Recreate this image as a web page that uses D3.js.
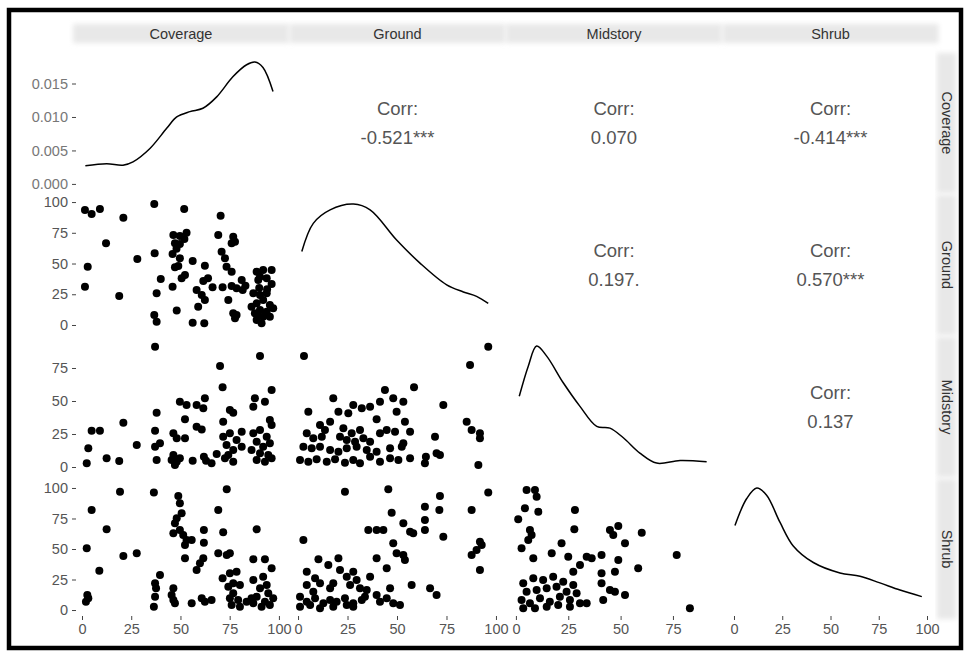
<!DOCTYPE html>
<html>
<head>
<meta charset="utf-8">
<script src="https://cdn.jsdelivr.net/npm/d3@7"></script>
<style>
  body { margin: 0; background: #fff; }
  text { font-family: "Liberation Sans", Arial, sans-serif; }
</style>
</head>
<body>
<svg width="967" height="655"></svg>
<script>
// **** Data ****

var variables = ['Coverage', 'Ground', 'Midstory', 'Shrub'];

// axis limits of every variable (already padded like ggplot does)
var xLimits = [[-3.05, 103.6], [-2.8, 103.3], [-3.3, 97.0], [-4.4, 104.4]];
var yLimits = [null, [-5.7, 103.3], [-5.3, 96.2], [-4.9, 104.9]];

var xTicks = [[0, 25, 50, 75, 100], [0, 25, 50, 75, 100], [0, 25, 50, 75], [0, 25, 50, 75, 100]];
var yTicks = [[0, 0.005, 0.010, 0.015], [0, 25, 50, 75, 100], [0, 25, 50, 75], [0, 25, 50, 75, 100]];

// diagonal densities: [value, density]
var coverageDensity = [[1.7,0.0027],[12.5,0.0030],[20.8,0.0028],[25.9,0.0033],[34.5,0.0053],[43.0,0.0083],
  [48.1,0.0100],[54.8,0.0108],[61.4,0.0113],[68.4,0.0130],[76.6,0.0160],[83.6,0.0178],[87.8,0.0182],
  [91.9,0.0174],[97.0,0.0138]];
var groundDensity = [[1.9,0.0116],[7.7,0.0160],[16.2,0.0181],[28.0,0.0190],[36.4,0.0181],[49.8,0.0134],
  [61.6,0.0098],[75.1,0.0064],[83.5,0.0053],[90.2,0.0046],[96.1,0.0035]];
var midstoryDensity = [[1.6,0.0164],[5.9,0.0233],[9.9,0.0279],[14.7,0.0256],[22.6,0.0195],[30.6,0.0141],
  [38.6,0.0095],[44.9,0.0091],[51.3,0.0069],[59.2,0.0034],[67.2,0.0011],[78.4,0.0017],[91.1,0.0014]];
var shrubDensity = [[0.5,0.0178],[6.6,0.0235],[11.8,0.0257],[16.9,0.0242],[23.8,0.0185],[30.7,0.0135],
  [41.1,0.0100],[54.9,0.0078],[65.3,0.0071],[75.6,0.0057],[86.0,0.0042],[97.3,0.0028]];

// lower panels: [x, y]
var coverageGround = [[1.5,93.5],[4.9,90.2],[9.1,94.3],[21,87.2],[36.7,98.4],[51.9,94.3],[70.4,88.9],[12.2,66.4],
  [2.9,47.4],[1.5,31.1],[18.9,23.6],[28.1,53.7],[36.9,58.3],[40,37.4],[37.9,25.8],[36.7,8.1],[37.9,2.7],
  [46.4,73.2],[49.7,72.4],[53.1,75],[47.2,66.4],[49.7,65.9],[46,57.7],[49.7,54.2],[47.2,46.9],[48.9,48],
  [56.2,52],[62.4,48.2],[52.3,40.7],[50.6,38],[46,31.1],[48.1,11.7],[56.2,1.9],[62.1,1.4],[61.6,35.8],
  [58.2,28.5],[60.8,24.4],[62.4,20.3],[59,14.9],[66.3,30.6],[69.2,73.2],[76.8,71.8],[77.7,67.7],[76,66.4],
  [70.9,59.6],[72.6,54.2],[73.4,47.4],[76,43.3],[71.4,30.6],[76,31.7],[78.5,29.8],[81.1,36.6],[81.6,28.5],
  [74.3,20.3],[76.8,9.5],[77.7,5.4],[78.5,8.1],[88.7,43.3],[92,44.7],[96.3,44.7],[90.4,39.3],[93.8,38],
  [89.5,36.6],[96.3,33.3],[87,25.8],[90.4,24.4],[93.8,25.8],[92,20.3],[88.7,17.6],[86.1,14.9],[95.4,16.3],
  [90.4,12.2],[93.8,10.8],[92,6.8],[88.7,4.1],[95.4,6.8],[91.2,1.4],[87.8,9.5],[97.1,13.6],[52,70],[48,62],
  [64,38],[83,32],[90,30],[94,29],[89,8]];
var coverageMidstory = [[37.1,91.1],[90.4,84.1],[70.1,76.5],[71.4,60.4],[96.3,58.3],[49.7,49.5],[53.1,47],
  [58.2,47],[62.4,52],[61.6,44.5],[37.9,41.1],[87.8,52],[92.9,49.5],[87,45.7],[75.1,43.2],[76.8,41.1],
  [52.3,36.1],[71.7,34.3],[95.4,35.6],[96.3,31.8],[21,33.6],[58.2,30.5],[60.8,28.5],[4.9,27.5],[9.1,27.5],
  [37.1,27.5],[46.4,25.5],[48.1,21.7],[52.3,21.7],[71.7,23],[75.1,25.5],[81.1,26.7],[78.5,20.5],[73.4,16.7],
  [76.8,12.9],[81.1,15.4],[87,25.5],[90.4,28],[93.8,23],[88.7,19.2],[92,15.4],[95.4,18],[86.1,12.9],
  [90.4,10.4],[94.6,9.1],[88.7,5.3],[92.9,4],[96.3,6.6],[27.8,16.7],[37.1,15.4],[39.6,18],[3.2,14.2],
  [2.4,2.8],[12.5,6.6],[18.9,4.5],[37.9,5.3],[46.4,9.1],[48.1,4],[47.2,1.5],[49.7,6.6],[45.5,5.3],[56.2,4.8],
  [61.9,7.8],[63,4.8],[65.8,2.8],[68.4,9.8],[72.6,6.6],[74.3,9.1],[76.8,4]];
var coverageShrub = [[19.3,97],[36.5,96.2],[48.9,93.4],[73.5,98.9],[4.9,82],[12.5,66.1],[2.4,50.6],[21,44.3],
  [27.8,46.5],[8.8,32.2],[3.2,9.6],[2.7,12.3],[2,6.8],[49.7,87.5],[50.6,79.3],[48.1,75.2],[47.2,71.1],
  [49.7,65.6],[46.4,62.9],[51.4,61.5],[53.1,57.4],[55.7,57.4],[52.3,53.3],[69.2,82],[61.9,65.6],[71.7,63.7],
  [61.9,55.2],[52.3,42.4],[61.6,42.4],[59.9,38.3],[58.2,32.8],[69.2,46.5],[73.5,45.1],[75.1,46.5],[88.7,66.1],
  [87,41.6],[92.9,41.6],[96.3,34.2],[71.4,26],[39.6,28.7],[37.1,21.9],[37.6,17.8],[37.1,10.9],[36.5,2.7],
  [46.4,17.8],[45.5,12.3],[46.4,8.2],[47.2,5.5],[55.7,5.5],[60.8,9.6],[62.4,6.8],[65.8,8.2],[75.1,30.1],
  [78.5,31.4],[76.8,21.9],[74.3,19.1],[80.2,20.5],[76.8,13.7],[75.1,9.6],[79.3,8.2],[76,4.1],[80.2,2.7],
  [83.6,6.8],[86.1,9.6],[87,24.6],[92,27.3],[93.8,20.5],[90.4,17.8],[94.6,13.7],[88.7,10.9],[92.9,6.8],
  [87,5.5],[91.2,2.7],[95.4,4.1],[97.1,9.6]];
var groundMidstory = [[3,84.1],[96.1,91.1],[86.9,77.3],[73.4,47],[58.6,60.4],[43.9,58.3],[48.1,52],[53.2,49.5],
  [17.8,52],[27.9,47],[32.2,44.5],[36.4,45.7],[41.4,49.5],[49.8,41.9],[5.2,41.9],[20.4,41.9],[25.4,40.7],
  [39.7,36.1],[54,34.3],[11.1,31.8],[16.2,34.3],[13.6,28],[22.9,29.3],[27.1,25.5],[31.3,28],[41.4,25.5],
  [44.8,28],[49,26.7],[56.6,26.7],[4.4,25.5],[7.7,21.7],[12,23],[21.2,23],[24.6,20.5],[28.8,19.2],[33,21.7],
  [36.4,19.2],[2.7,15.4],[6.9,14.2],[11.1,15.4],[16.2,12.9],[20.4,11.6],[24.6,14.2],[29.6,15.4],[34.7,12.9],
  [39.7,11.6],[46.5,14.2],[52.4,15.4],[1,5.3],[5.2,4],[9.4,5.8],[14.5,4],[18.7,5.8],[23.7,3.3],[27.9,5.3],
  [31.3,2.8],[36.4,7.8],[41.4,4],[46.5,6.6],[50.7,5.3],[56.6,6.6],[53.2,18],[64.1,2.8],[64.6,7.8],[70,10.4],
  [71.7,9.1],[69.2,23],[85.2,34.3],[87.7,28],[91.9,25.5],[91.9,21.7],[91.1,1.5]];
var groundShrub = [[2.7,57.4],[23.7,97],[45.6,98.9],[10.3,41.6],[15.3,36.9],[20.4,42.4],[4.4,31.4],[8.6,26],
  [35.5,65.6],[39.7,65.6],[43.1,65.6],[47.3,79.8],[48.1,54.7],[49.8,46.5],[53.2,45.1],[54,41],[39.7,42.4],
  [44.8,34.2],[53.2,71.1],[58.2,62.9],[56.6,64.2],[64.1,84.7],[64.1,73.8],[64.1,65.6],[71.7,93.4],[71.4,82],
  [73.4,60.1],[57.4,20.5],[66.7,17.8],[70,12.3],[36.4,27.3],[21.2,32.8],[24.6,27.3],[27.9,31.4],[29.6,24.6],
  [26.3,20.5],[31.3,17.8],[34.7,16.4],[33.8,10.9],[39.7,12.3],[41.4,6.8],[44.8,9.6],[46.5,17.8],[48.1,5.5],
  [51.5,4.1],[1,10.9],[4.4,6.8],[8.6,9.6],[12.8,5.5],[16.2,8.2],[19.5,6.8],[23.7,9.6],[27.9,5.5],[32.2,8.2],
  [1,2.7],[6.1,4.1],[11.1,1.4],[17.8,2.7],[24.6,4.1],[27.9,2.7],[4.4,20.5],[11.1,21.9],[7.7,15],[16.2,17.8],
  [17.8,21.9],[87.7,45.1],[90.2,49.2],[91.9,56],[92.8,53.3],[87.7,82],[91.9,32.8],[96.1,96.2]];
var midstoryShrub = [[5.1,98.4],[9.1,98.4],[9.9,92.9],[4.3,83.4],[10.7,80.6],[1.1,74.3],[28.2,82],[6.7,65.6],
  [7.5,61.5],[5.9,57.4],[2.7,50.6],[27.9,66.1],[44.9,65.6],[46.5,61.5],[48.9,68.9],[52.1,54.7],[60.1,63.4],
  [21.8,54.7],[8.3,42.4],[17.1,46.5],[25,43.7],[33.8,43.7],[36.2,42.4],[30.6,36.9],[40.9,45.1],[48.9,41],
  [76.8,45.1],[58.4,34.2],[27.4,31.4],[40.9,30.1],[47.3,31.4],[40.9,21.9],[44.9,16.4],[47.3,15],[52.1,12.3],
  [83.1,1.4],[3.5,21.9],[8.3,26],[13,24.6],[17.8,27.3],[22.6,23.2],[27.4,20.5],[5.1,15],[9.9,16.4],[14.7,17.8],
  [19.4,19.1],[24.2,15],[29,13.7],[2.7,8.2],[6.7,5.5],[11.5,9.6],[16.2,6.8],[21,10.9],[25.8,8.2],[30.6,5.5],
  [3.5,1.4],[9.1,1.4],[14.7,2.7],[20.2,4.1],[25.8,2.7],[33.8,5.5],[41.7,8.2]];

// upper panels: [row, col, label]
var corrLabels = [[0, 1, '-0.521***'], [0, 2, '0.070'], [0, 3, '-0.414***'],
  [1, 2, '0.197.'], [1, 3, '0.570***'], [2, 3, '0.137']];

// **** Layout ****

var svg = d3.select('svg');
var panelLeft = 76, panelTop = 56, panelW = 210, panelH = 134, gapX = 6.5, gapY = 8;

function colX(j) { return panelLeft + j * (panelW + gapX); }
function rowY(i) { return panelTop + i * (panelH + gapY); }

var densities = [coverageDensity, groundDensity, midstoryDensity, shrubDensity];
var scatterSets = [
  {row: 1, col: 0, data: coverageGround},
  {row: 2, col: 0, data: coverageMidstory},
  {row: 3, col: 0, data: coverageShrub},
  {row: 2, col: 1, data: groundMidstory},
  {row: 3, col: 1, data: groundShrub},
  {row: 3, col: 2, data: midstoryShrub}
];

var xScales = xLimits.map(function(lim, j) {
  return d3.scaleLinear().domain(lim).range([colX(j), colX(j) + panelW]);
});
var yScales = yLimits.map(function(lim, i) {
  return lim ? d3.scaleLinear().domain(lim).range([rowY(i) + panelH, rowY(i)]) : null;
});
// density scales for the diagonal
var dScales = densities.map(function(d, i) {
  var m = d3.max(d, function(p) { return p[1]; });
  return d3.scaleLinear().domain([-0.05 * m, 1.05 * m]).range([rowY(i) + panelH, rowY(i)]);
});
yScales[0] = dScales[0];

// blur for the soft grey strips
var defs = svg.append('defs');
defs.append('filter').attr('id', 'soft')
  .attr('x', '-10%').attr('y', '-40%').attr('width', '120%').attr('height', '180%')
  .append('feGaussianBlur').attr('stdDeviation', 2.5);

// **** Strips ****

variables.forEach(function(v, j) {
  svg.append('rect').attr('x', colX(j) - 3).attr('y', 24).attr('width', panelW + 6).attr('height', 19)
    .attr('fill', '#e8e8e8').attr('filter', 'url(#soft)');
  svg.append('text').attr('x', colX(j) + panelW / 2).attr('y', 34)
    .attr('text-anchor', 'middle').attr('dominant-baseline', 'central')
    .attr('font-size', 14.5).attr('fill', '#333').text(v);
});
variables.forEach(function(v, i) {
  svg.append('rect').attr('x', 937).attr('y', rowY(i) - 3).attr('width', 19).attr('height', panelH + 6)
    .attr('fill', '#e8e8e8').attr('filter', 'url(#soft)');
  svg.append('text').attr('transform', 'translate(946.5,' + (rowY(i) + panelH / 2) + ') rotate(90)')
    .attr('text-anchor', 'middle').attr('dominant-baseline', 'central')
    .attr('font-size', 14.5).attr('fill', '#333').text(v);
});

// **** Diagonal densities ****

densities.forEach(function(d, i) {
  var line = d3.line()
    .x(function(p) { return xScales[i](p[0]); })
    .y(function(p) { return dScales[i](p[1]); })
    .curve(d3.curveCatmullRom.alpha(0.5));
  svg.append('path').attr('d', line(d))
    .attr('fill', 'none').attr('stroke', '#000').attr('stroke-width', 1.5);
});

// **** Scatter panels ****

scatterSets.forEach(function(s) {
  svg.append('g').selectAll('circle')
    .data(s.data)
    .enter()
    .append('circle')
    .attr('cx', function(p) { return xScales[s.col](p[0]); })
    .attr('cy', function(p) { return yScales[s.row](p[1]); })
    .attr('r', 4)
    .attr('fill', '#000');
});

// **** Correlation text ****

corrLabels.forEach(function(c) {
  var cx = colX(c[1]) + panelW / 2, cy = rowY(c[0]) + panelH / 2;
  var t = svg.append('text').attr('text-anchor', 'middle').attr('font-size', 18.5).attr('fill', '#555');
  t.append('tspan').attr('x', cx).attr('y', cy - 15).attr('dominant-baseline', 'central').text('Corr:');
  t.append('tspan').attr('x', cx).attr('y', cy + 14).attr('dominant-baseline', 'central').text(c[2]);
});

// **** Axes ****

xScales.forEach(function(sc, j) {
  var g = svg.append('g').attr('transform', 'translate(0,' + (rowY(3) + panelH) + ')')
    .call(d3.axisBottom(sc).tickValues(xTicks[j]).tickSize(4).tickPadding(4).tickFormat(d3.format('d')));
  g.select('.domain').remove();
  g.selectAll('line').attr('stroke', '#444');
  g.selectAll('text').attr('font-size', 14.5).attr('fill', '#555')
    .attr('font-family', '"Liberation Sans", Arial, sans-serif');
});

yScales.forEach(function(sc, i) {
  var fmt = i === 0 ? d3.format('.3f') : d3.format('d');
  var g = svg.append('g').attr('transform', 'translate(' + panelLeft + ',0)')
    .call(d3.axisLeft(sc).tickValues(yTicks[i]).tickSize(4).tickPadding(4).tickFormat(fmt));
  g.select('.domain').remove();
  g.selectAll('line').attr('stroke', '#444');
  g.selectAll('text').attr('font-size', 14.5).attr('fill', i === 0 ? '#777' : '#555')
    .attr('font-family', '"Liberation Sans", Arial, sans-serif');
});

// **** Frame ****

svg.append('rect').attr('x', 9).attr('y', 10).attr('width', 952).attr('height', 638)
  .attr('fill', 'none').attr('stroke', '#000').attr('stroke-width', 4.5);
</script>
</body>
</html>
